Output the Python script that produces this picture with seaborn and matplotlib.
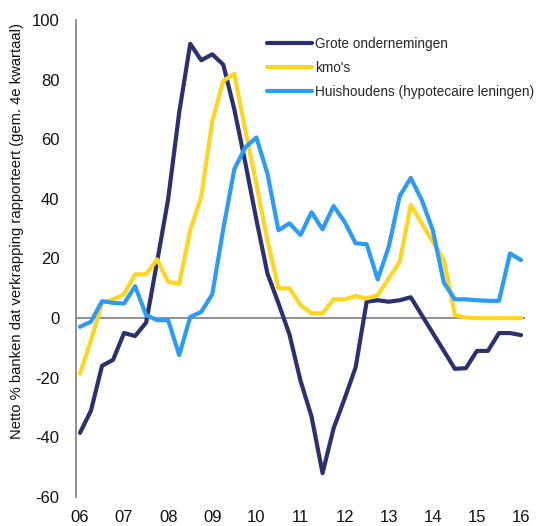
import numpy as np
import pandas as pd
import matplotlib
matplotlib.use("Agg")
import matplotlib.pyplot as plt
import seaborn as sns

# Quarterly data 2006Q1 .. 2016Q1
year_labels = ["06", "07", "08", "09", "10", "11", "12", "13", "14", "15", "16"]
series_names = ["Grote ondernemingen", "kmo's", "Huishoudens (hypotecaire leningen)"]

grote = [-38.5, -31, -16, -14, -5, -6, -1.5, 19, 40, 69,
         92, 86.5, 88.5, 85, 70, 52, 33, 15, 5, -5.5,
         -21, -33, -52, -37, -27, -16.5, 5.5, 6, 5.5, 6,
         7, 1, -5, -11, -17, -16.8, -11, -11, -5, -5, -5.7]
kmo = [-18.6, -7.5, 5, 6.3, 8, 14.7, 14.7, 19.7, 12.2, 11.5,
       29.5, 40.7, 66, 79.6, 82, 63, 45, 26, 10, 10,
       4.4, 1.6, 1.6, 6.3, 6.3, 7.4, 6.6, 7.7, 13.3, 18.9,
       38, 31.8, 25.6, 19.5, 1, 0.2, 0, 0, 0, 0, 0]
huis = [-2.9, -1.2, 5.7, 5.1, 4.9, 10.7, 1, -0.7, -0.7, -12.4,
        0.4, 2.1, 8, 30, 50, 57.3, 60.6, 48.5, 29.5, 31.8,
        27.9, 35.5, 29.8, 37.6, 32.3, 25.1, 24.8, 13, 23.9, 41,
        47, 39.6, 29.5, 11.9, 6.3, 6.3, 6, 5.8, 5.8, 21.7, 19.5]

colors = {"Grote ondernemingen": "#2B3170",
          "kmo's": "#FFD51E",
          "Huishoudens (hypotecaire leningen)": "#2B9BF8"}

n = len(grote)
q = np.arange(n)
df = pd.concat([
    pd.DataFrame({"q": q, "v": grote, "s": series_names[0]}),
    pd.DataFrame({"q": q, "v": kmo, "s": series_names[1]}),
    pd.DataFrame({"q": q, "v": huis, "s": series_names[2]}),
], ignore_index=True)

sns.set_style("white")
plt.rcParams["font.family"] = ["Liberation Sans", "DejaVu Sans"]
plt.rcParams["axes.unicode_minus"] = False

fig = plt.figure(figsize=(5.37, 5.26), dpi=100)
ax = fig.add_axes([76/537, 29/526, 449/537, 477/526])

ax.axhline(0, color="#888888", lw=1.3, zorder=1)
sns.lineplot(data=df, x="q", y="v", hue="s", palette=colors,
             hue_order=series_names, lw=3.0, ax=ax, legend=True, zorder=3)

ax.set_xlim(-0.36, 40.36)
ax.set_ylim(-60, 100)
ax.set_yticks(np.arange(-60, 101, 20))
ax.set_xticks(np.arange(0, n, 4))
ax.set_xticklabels(year_labels)
ax.tick_params(axis="both", length=0, labelsize=12, colors="#111111")
ax.tick_params(axis="y", pad=12)
ax.tick_params(axis="x", pad=9)

for s in ["top", "right", "bottom"]:
    ax.spines[s].set_visible(False)
ax.spines["left"].set_color("#888888")
ax.spines["left"].set_linewidth(1.3)

ax.set_xlabel("")
ax.set_ylabel("Netto % banken dat verkrapping rapporteert (gem. 4e kwartaal)",
              fontsize=10.6, color="#111111")
ax.yaxis.set_label_coords(-0.115, 0.557)

leg = ax.legend(loc="upper left", bbox_to_anchor=(267/537, 1 - 37/526),
                bbox_transform=fig.transFigure, frameon=False,
                fontsize=9.85, handlelength=3.3, handletextpad=0.2,
                labelspacing=0.74, borderpad=0, borderaxespad=0)
for line in leg.get_lines():
    line.set_linewidth(3.0)

fig.savefig("out.png", dpi=100)
